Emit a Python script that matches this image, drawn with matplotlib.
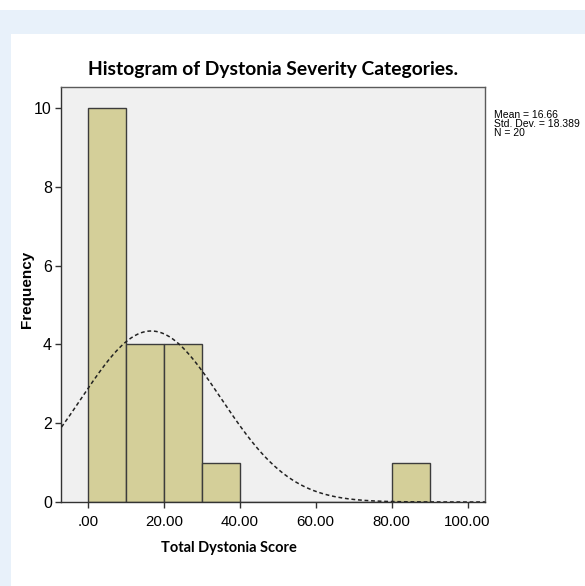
# module imports
import numpy as np
import matplotlib
matplotlib.use("Agg")
import matplotlib.pyplot as plt
from matplotlib.patches import Rectangle

# data
bin_edges = [0, 10, 20, 30, 40, 50, 60, 70, 80, 90]
counts = [10, 4, 4, 1, 0, 0, 0, 0, 1]
x_ticks = [0, 20, 40, 60, 80, 100]
x_tick_labels = [".00", "20.00", "40.00", "60.00", "80.00", "100.00"]
y_ticks = [0, 2, 4, 6, 8, 10]
mean = 16.66
std_dev = 18.389
n = 20

# colours
BAR = "#d4cf99"
PANEL = "#f0f0f0"
EDGE = "#3c3c3c"
FRAME = "#5a5a5a"
BLUE = "#e8f1fa"

fig = plt.figure(figsize=(5.85, 5.86), dpi=100)
fig.patch.set_facecolor("white")

# page background bands
W, H = 585, 586
fig.patches.append(Rectangle((0, 1 - 34 / H), 1, 24 / H, transform=fig.transFigure,
                             facecolor=BLUE, edgecolor="none", zorder=0))
fig.patches.append(Rectangle((0, 0), 11 / W, 1 - 34 / H, transform=fig.transFigure,
                             facecolor=BLUE, edgecolor="none", zorder=0))

ax = fig.add_axes([61 / W, 1 - 502 / H, (485 - 61) / W, (502 - 87) / H])
ax.set_facecolor(PANEL)

# histogram bars
lefts = bin_edges[:-1]
ax.bar(lefts, counts, width=10, align="edge", color=BAR, edgecolor=EDGE,
       linewidth=1.0, zorder=2)

# normal curve from mean / sd
xs = np.linspace(-8, 106, 400)
ys = n * 10 / (std_dev * np.sqrt(2 * np.pi)) * np.exp(-0.5 * ((xs - mean) / std_dev) ** 2)
ax.plot(xs, ys, color="#222222", linestyle=(0, (2.5, 1.8)), linewidth=1.1, zorder=3)

ax.set_xlim(-7.1, 104.6)
ax.set_ylim(0, 10.53)
ax.set_xticks(x_ticks)
ax.set_xticklabels(x_tick_labels, fontfamily="Liberation Sans", fontsize=10.8)
ax.set_yticks(y_ticks)
ax.set_yticklabels([str(v) for v in y_ticks], fontfamily="Liberation Sans", fontsize=11.5)
ax.tick_params(direction="out", length=4, width=1, color="#333333")
ax.tick_params(axis="y", pad=2.5)
ax.tick_params(axis="x", pad=5)

for s in ax.spines.values():
    s.set_color(FRAME)
    s.set_linewidth(1.0)
ax.spines["bottom"].set_color("#333333")
ax.spines["left"].set_color("#333333")

# labels and title
fig.text(27 / W, 1 - 289 / H, "Frequency", fontfamily="Liberation Sans",
         fontweight="bold", fontsize=11, rotation=90, ha="center", va="center")
fig.text(229 / W, 1 - 548 / H, "Total Dystonia Score", fontfamily="Lato",
         fontweight="bold", fontsize=10.5, ha="center", va="center")
fig.text(273 / W, 1 - 70 / H, "Histogram of Dystonia Severity Categories.",
         fontfamily="Lato", fontweight="bold", fontsize=13.9, ha="center", va="center")

# stats box text
stats = [f"Mean = {mean}", f"Std. Dev. = {std_dev}", f"N = {n}"]
for i, line in enumerate(stats):
    fig.text(494 / W, 1 - (114.5 + i * 9.5) / H, line, fontfamily="Liberation Sans",
             fontsize=7.5, va="center", ha="left")

fig.savefig("out.png", dpi=100)
